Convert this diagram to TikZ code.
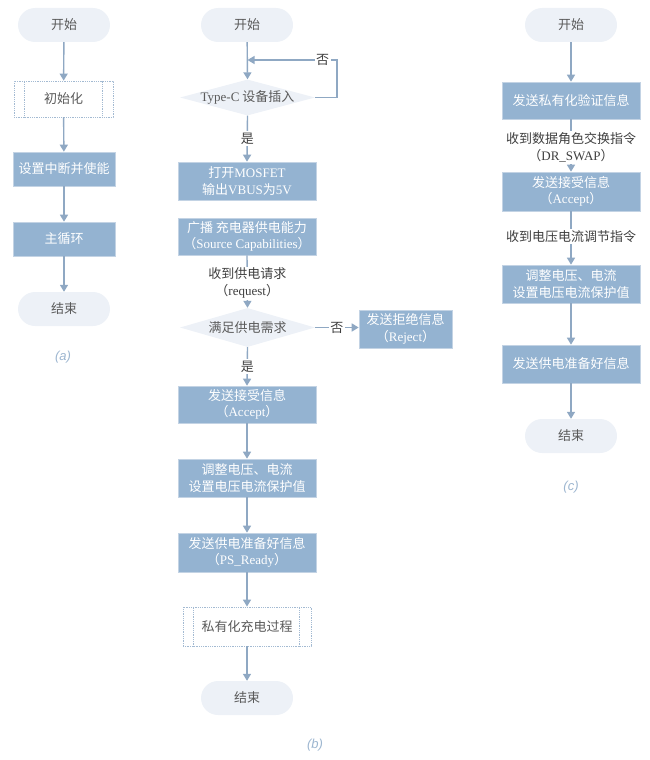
\documentclass[tikz,border=0pt]{standalone}
\usepackage{fontspec}
\setmainfont{Noto Sans CJK SC}
\newfontfamily\latf{Liberation Serif}
\newfontfamily\capf{Liberation Sans}
\usetikzlibrary{arrows.meta,shapes.geometric,calc}
\definecolor{boxfill}{HTML}{94B3D1}
\definecolor{boxline}{HTML}{C3D3E4}
\definecolor{termfill}{HTML}{EDF1F7}
\definecolor{linec}{HTML}{8FA8C3}
\definecolor{dotc}{HTML}{A3BAD2}
\definecolor{txtgray}{HTML}{5A5A5A}
\definecolor{lbl}{HTML}{3F3F3F}
\definecolor{capcol}{HTML}{9DB6D0}
\begin{document}
\begin{tikzpicture}[x=1pt,y=-1pt,
  every node/.style={font=\fontsize{13}{16.5}\selectfont, align=center, inner sep=0pt},
  term/.style={rectangle, rounded corners=17pt, fill=termfill, minimum width=92pt, minimum height=34pt, text=txtgray},
  pbox/.style={rectangle, fill=boxfill, draw=boxline, line width=0.6pt, minimum width=138pt, minimum height=38pt, text=white},
  predef/.style={rectangle, fill=white, draw=dotc, densely dotted, line width=0.8pt, text=txtgray},
  dia/.style={diamond, fill=termfill, minimum width=135pt, minimum height=36pt, inner sep=0pt},
  diatext/.style={text=txtgray},
  arr/.style={draw=linec, line width=1.4pt, -{Triangle[width=8pt,length=7pt]}},
  elabel/.style={text=lbl, fill=white, inner sep=1.5pt},
  capstyle/.style={text=capcol, font=\capf\itshape\fontsize{13}{15}\selectfont}
]
\useasboundingbox (0,0) rectangle (649,760);

% ---------------- (a) ----------------
\node[term] (sa) at (64,25) {开始};
\node[predef, minimum width=99pt, minimum height=36pt] (ia) at (63.5,99) {初始化};
\draw[dotc, densely dotted, line width=0.8pt] ($(ia.north west)+(11,0)$) -- ($(ia.south west)+(11,0)$);
\draw[dotc, densely dotted, line width=0.8pt] ($(ia.north east)+(-11,0)$) -- ($(ia.south east)+(-11,0)$);
\node[pbox, minimum width=102pt, minimum height=34pt] (pa) at (64,169) {设置中断并使能};
\node[pbox, minimum width=102pt, minimum height=34pt] (ma) at (64,239) {主循环};
\node[term] (ea) at (64,309) {结束};
\node[capstyle] (capa) at (63,357) {(a)};
\draw[arr] (sa) -- (ia);
\draw[arr] (ia) -- (pa);
\draw[arr] (pa) -- (ma);
\draw[arr] (ma) -- (ea);

% ---------------- (b) ----------------
\node[term] (sb) at (247,25) {开始};
\node[dia] (db) at (247.5,97.5) {};
\node[diatext] (dbt) at (db) {{\latf Type-C} 设备插入};
\node[pbox] (ob) at (247,181) {打开{\latf MOSFET}\\输出{\latf VBUS}为{\latf 5V}};
\node[pbox, minimum height=37pt] (bb) at (247,236.5) {广播 充电器供电能力\\（{\latf Source Capabilities}）};
\node[dia, minimum height=39pt] (d2) at (247.5,327.5) {};
\node[diatext] (d2t) at (d2) {满足供电需求};
\node[pbox, minimum width=93pt] (rj) at (405.5,329) {发送拒绝信息\\（{\latf Reject}）};
\node[pbox, minimum height=37pt] (ac) at (247,404.5) {发送接受信息\\（{\latf Accept}）};
\node[pbox] (tz) at (247,478) {调整电压、电流\\设置电压电流保护值};
\node[pbox, minimum height=39pt] (ps) at (247,552.5) {发送供电准备好信息\\（{\latf PS\_Ready}）};
\node[predef, minimum width=128pt, minimum height=39pt] (pc) at (247,626.5) {私有化充电过程};
\draw[dotc, densely dotted, line width=0.8pt] ($(pc.north west)+(11,0)$) -- ($(pc.south west)+(11,0)$);
\draw[dotc, densely dotted, line width=0.8pt] ($(pc.north east)+(-12,0)$) -- ($(pc.south east)+(-12,0)$);
\node[term] (eb) at (247,698) {结束};
\node[capstyle] (capb) at (315,745) {(b)};
\coordinate (lp) at (247.5,60);
\draw[arr] (sb) -- (db.north);
\draw[arr] (db.east) -- (337,97.5) |- node[pos=0.58, elabel] {否} (lp);
\draw[arr] (db.south) -- node[pos=0.5, elabel] {是} (ob.north);
\draw[arr] (bb.south) -- node[pos=0.53, elabel] {收到供电请求\\（{\latf request}）} (d2.north);
\draw[arr] (d2.east) -- node[pos=0.5, elabel] {否} (rj.west |- d2.east);
\draw[arr] (d2.south) -- node[pos=0.5, elabel] {是} (ac.north);
\draw[arr] (ac) -- (tz);
\draw[arr] (tz) -- (ps);
\draw[arr] (ps) -- (pc);
\draw[arr] (pc) -- (eb);

% ---------------- (c) ----------------
\node[term] (sc) at (571,25) {开始};
\node[pbox, minimum height=37pt] (vc) at (571,100.5) {发送私有化验证信息};
\node[pbox, minimum height=39pt] (ac2) at (571,191.5) {发送接受信息\\（{\latf Accept}）};
\node[pbox] (tc) at (571,284) {调整电压、电流\\设置电压电流保护值};
\node[pbox] (rc) at (571,364) {发送供电准备好信息};
\node[term] (ec) at (571,436) {结束};
\node[capstyle] (capc) at (571,487) {(c)};
\draw[arr] (sc) -- (vc);
\draw[arr] (vc.south) -- node[pos=0.5, elabel, yshift=-2pt] {收到数据角色交换指令\\（{\latf DR\_SWAP}）} (ac2.north);
\draw[arr] (ac2.south) -- node[pos=0.48, elabel] {收到电压电流调节指令} (tc.north);
\draw[arr] (tc) -- (rc);
\draw[arr] (rc) -- (ec);
\end{tikzpicture}
\end{document}
